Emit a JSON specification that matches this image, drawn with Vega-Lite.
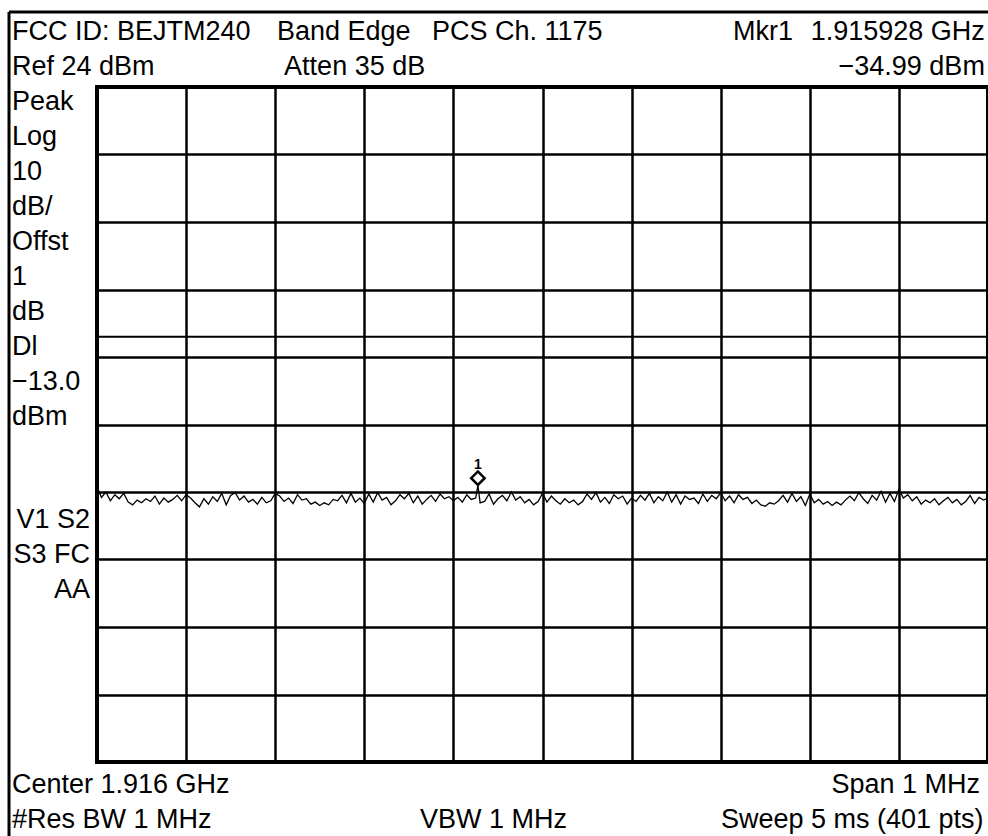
{
  "$schema": "https://vega.github.io/schema/vega-lite/v6.json",
  "width": 891,
  "height": 675,
  "autosize": {"type": "none"},
  "padding": {"left": 97, "top": 87, "right": 0, "bottom": 74},
  "background": "white",
  "data": {"values": [{}]},
  "config": {
    "view": {"stroke": "black", "strokeWidth": 4},
    "font": "Liberation Sans",
    "axis": {"labels": false, "ticks": false, "domain": false, "title": null, "grid": true, "gridColor": "black", "gridOpacity": 1, "gridWidth": 2.5},
    "text": {"font": "Liberation Sans", "fill": "black", "color": "black"}
  },
  "datasets": {
    "trace": [
      {"pt": 0, "dBm": -35.2}, {"pt": 2, "dBm": -36.8}, {"pt": 4, "dBm": -36.0}, {"pt": 6, "dBm": -37.3}, {"pt": 8, "dBm": -36.4},
      {"pt": 10, "dBm": -37.0}, {"pt": 12, "dBm": -36.2}, {"pt": 14, "dBm": -37.5}, {"pt": 16, "dBm": -37.9}, {"pt": 18, "dBm": -37.2},
      {"pt": 20, "dBm": -37.6}, {"pt": 22, "dBm": -37.0}, {"pt": 24, "dBm": -37.4}, {"pt": 26, "dBm": -36.6}, {"pt": 28, "dBm": -37.8},
      {"pt": 30, "dBm": -36.9}, {"pt": 32, "dBm": -37.5}, {"pt": 34, "dBm": -37.1}, {"pt": 36, "dBm": -36.5}, {"pt": 38, "dBm": -37.3},
      {"pt": 40, "dBm": -36.4}, {"pt": 42, "dBm": -36.9}, {"pt": 44, "dBm": -37.6}, {"pt": 46, "dBm": -38.2}, {"pt": 48, "dBm": -37.0},
      {"pt": 50, "dBm": -37.8}, {"pt": 52, "dBm": -36.7}, {"pt": 54, "dBm": -37.4}, {"pt": 56, "dBm": -36.2}, {"pt": 58, "dBm": -37.9},
      {"pt": 60, "dBm": -36.5}, {"pt": 62, "dBm": -36.1}, {"pt": 64, "dBm": -37.2}, {"pt": 66, "dBm": -36.6}, {"pt": 68, "dBm": -37.5},
      {"pt": 70, "dBm": -37.1}, {"pt": 72, "dBm": -37.8}, {"pt": 74, "dBm": -36.8}, {"pt": 76, "dBm": -37.6}, {"pt": 78, "dBm": -37.3},
      {"pt": 80, "dBm": -36.2}, {"pt": 82, "dBm": -36.6}, {"pt": 84, "dBm": -37.4}, {"pt": 86, "dBm": -36.9}, {"pt": 88, "dBm": -37.7},
      {"pt": 90, "dBm": -36.4}, {"pt": 92, "dBm": -37.2}, {"pt": 94, "dBm": -37.0}, {"pt": 96, "dBm": -37.8}, {"pt": 98, "dBm": -37.5},
      {"pt": 100, "dBm": -38.0}, {"pt": 102, "dBm": -37.6}, {"pt": 104, "dBm": -37.9}, {"pt": 106, "dBm": -37.1}, {"pt": 108, "dBm": -37.3},
      {"pt": 110, "dBm": -36.5}, {"pt": 112, "dBm": -37.6}, {"pt": 114, "dBm": -36.2}, {"pt": 116, "dBm": -37.5}, {"pt": 118, "dBm": -36.9},
      {"pt": 120, "dBm": -37.7}, {"pt": 122, "dBm": -36.3}, {"pt": 124, "dBm": -37.5}, {"pt": 126, "dBm": -36.1}, {"pt": 128, "dBm": -37.2},
      {"pt": 130, "dBm": -36.8}, {"pt": 132, "dBm": -37.9}, {"pt": 134, "dBm": -37.3}, {"pt": 136, "dBm": -36.4}, {"pt": 138, "dBm": -37.0},
      {"pt": 140, "dBm": -36.2}, {"pt": 142, "dBm": -37.6}, {"pt": 144, "dBm": -36.6}, {"pt": 146, "dBm": -37.8}, {"pt": 148, "dBm": -37.1},
      {"pt": 150, "dBm": -36.5}, {"pt": 152, "dBm": -37.4}, {"pt": 154, "dBm": -36.3}, {"pt": 156, "dBm": -37.0}, {"pt": 158, "dBm": -36.7},
      {"pt": 160, "dBm": -37.3}, {"pt": 162, "dBm": -36.8}, {"pt": 164, "dBm": -37.5}, {"pt": 166, "dBm": -36.4}, {"pt": 168, "dBm": -37.1},
      {"pt": 170, "dBm": -36.9}, {"pt": 171, "dBm": -34.99}, {"pt": 172, "dBm": -37.6}, {"pt": 174, "dBm": -37.4}, {"pt": 176, "dBm": -36.3},
      {"pt": 178, "dBm": -37.8}, {"pt": 180, "dBm": -37.0}, {"pt": 182, "dBm": -36.5}, {"pt": 184, "dBm": -37.3}, {"pt": 186, "dBm": -36.0},
      {"pt": 188, "dBm": -37.2}, {"pt": 190, "dBm": -36.7}, {"pt": 192, "dBm": -37.6}, {"pt": 194, "dBm": -37.1}, {"pt": 196, "dBm": -37.9},
      {"pt": 198, "dBm": -37.4}, {"pt": 200, "dBm": -36.2}, {"pt": 202, "dBm": -37.5}, {"pt": 204, "dBm": -36.6}, {"pt": 206, "dBm": -37.3},
      {"pt": 208, "dBm": -37.8}, {"pt": 210, "dBm": -37.0}, {"pt": 212, "dBm": -37.6}, {"pt": 214, "dBm": -37.2}, {"pt": 216, "dBm": -37.9},
      {"pt": 218, "dBm": -37.4}, {"pt": 220, "dBm": -36.3}, {"pt": 222, "dBm": -37.1}, {"pt": 224, "dBm": -36.1}, {"pt": 226, "dBm": -37.5},
      {"pt": 228, "dBm": -36.8}, {"pt": 230, "dBm": -37.7}, {"pt": 232, "dBm": -36.4}, {"pt": 234, "dBm": -37.0}, {"pt": 236, "dBm": -36.6},
      {"pt": 238, "dBm": -37.8}, {"pt": 240, "dBm": -36.9}, {"pt": 242, "dBm": -37.4}, {"pt": 244, "dBm": -36.5}, {"pt": 246, "dBm": -37.2},
      {"pt": 248, "dBm": -36.2}, {"pt": 250, "dBm": -37.6}, {"pt": 252, "dBm": -36.7}, {"pt": 254, "dBm": -37.3}, {"pt": 256, "dBm": -36.0},
      {"pt": 258, "dBm": -37.5}, {"pt": 260, "dBm": -36.4}, {"pt": 262, "dBm": -37.8}, {"pt": 264, "dBm": -36.6}, {"pt": 266, "dBm": -37.1},
      {"pt": 268, "dBm": -36.9}, {"pt": 270, "dBm": -37.7}, {"pt": 272, "dBm": -36.3}, {"pt": 274, "dBm": -37.4}, {"pt": 276, "dBm": -36.5},
      {"pt": 278, "dBm": -37.0}, {"pt": 280, "dBm": -36.1}, {"pt": 282, "dBm": -37.3}, {"pt": 284, "dBm": -36.6}, {"pt": 286, "dBm": -37.6},
      {"pt": 288, "dBm": -36.4}, {"pt": 290, "dBm": -37.1}, {"pt": 292, "dBm": -36.8}, {"pt": 294, "dBm": -37.7}, {"pt": 296, "dBm": -37.2},
      {"pt": 298, "dBm": -37.9}, {"pt": 300, "dBm": -38.1}, {"pt": 302, "dBm": -37.6}, {"pt": 304, "dBm": -37.8}, {"pt": 306, "dBm": -37.3},
      {"pt": 308, "dBm": -36.5}, {"pt": 310, "dBm": -37.5}, {"pt": 312, "dBm": -36.2}, {"pt": 314, "dBm": -37.4}, {"pt": 316, "dBm": -36.7},
      {"pt": 318, "dBm": -38.0}, {"pt": 320, "dBm": -36.3}, {"pt": 322, "dBm": -37.6}, {"pt": 324, "dBm": -37.1}, {"pt": 326, "dBm": -37.8},
      {"pt": 328, "dBm": -37.4}, {"pt": 330, "dBm": -38.0}, {"pt": 332, "dBm": -37.5}, {"pt": 334, "dBm": -37.9}, {"pt": 336, "dBm": -37.2},
      {"pt": 338, "dBm": -36.6}, {"pt": 340, "dBm": -37.3}, {"pt": 342, "dBm": -36.1}, {"pt": 344, "dBm": -37.0}, {"pt": 346, "dBm": -37.7},
      {"pt": 348, "dBm": -36.5}, {"pt": 350, "dBm": -37.2}, {"pt": 352, "dBm": -35.9}, {"pt": 354, "dBm": -37.5}, {"pt": 356, "dBm": -36.2},
      {"pt": 358, "dBm": -37.4}, {"pt": 360, "dBm": -35.6}, {"pt": 362, "dBm": -36.9}, {"pt": 364, "dBm": -36.4}, {"pt": 366, "dBm": -37.3},
      {"pt": 368, "dBm": -36.7}, {"pt": 370, "dBm": -37.8}, {"pt": 372, "dBm": -37.2}, {"pt": 374, "dBm": -37.6}, {"pt": 376, "dBm": -37.0},
      {"pt": 378, "dBm": -37.9}, {"pt": 380, "dBm": -37.3}, {"pt": 382, "dBm": -36.8}, {"pt": 384, "dBm": -37.6}, {"pt": 386, "dBm": -37.1},
      {"pt": 388, "dBm": -37.9}, {"pt": 390, "dBm": -37.4}, {"pt": 392, "dBm": -36.5}, {"pt": 394, "dBm": -37.7}, {"pt": 396, "dBm": -36.8},
      {"pt": 398, "dBm": -37.2}, {"pt": 400, "dBm": -36.9}
    ],
    "marker": [{"pt": 171, "dBm": -34.99, "label": "1"}]
  },
  "layer": [
    {
      "data": {"name": "trace"},
      "mark": {"type": "line", "color": "black", "strokeWidth": 1.3, "clip": true},
      "encoding": {
        "x": {"field": "pt", "type": "quantitative", "scale": {"domain": [0, 400], "nice": false, "zero": false},
              "axis": {"values": [40, 80, 120, 160, 200, 240, 280, 320, 360]}},
        "y": {"field": "dBm", "type": "quantitative", "scale": {"domain": [-76, 24], "nice": false, "zero": false},
              "axis": {"values": [14, 4, -6, -16, -26, -36, -46, -56, -66]}}
      }
    },
    {
      "mark": {"type": "rule", "color": "black", "strokeWidth": 2},
      "encoding": {"y": {"datum": -13}}
    },
    {
      "data": {"name": "marker"},
      "mark": {"type": "point", "shape": "diamond", "filled": false, "stroke": "black", "strokeWidth": 2.5, "size": 180, "yOffset": -7, "opacity": 1},
      "encoding": {"x": {"field": "pt", "type": "quantitative"}, "y": {"field": "dBm", "type": "quantitative"}}
    },
    {
      "data": {"name": "marker"},
      "mark": {"type": "text", "fontSize": 14, "fontWeight": "bold", "dy": -16, "baseline": "alphabetic", "align": "center", "fill": "black", "color": "black"},
      "encoding": {"x": {"field": "pt", "type": "quantitative"}, "y": {"field": "dBm", "type": "quantitative"}, "text": {"field": "label"}}
    },
    {
      "mark": {"type": "rule", "color": "black", "strokeWidth": 3, "clip": false},
      "encoding": {"x": {"datum": -39.5}, "y": {"datum": 35.1}, "y2": {"datum": -95}}
    },
    {
      "mark": {"type": "rule", "color": "black", "strokeWidth": 3, "clip": false},
      "encoding": {"y": {"datum": 35.1}, "x": {"datum": -39.5}, "x2": {"datum": 402}}
    },
    {
      "mark": {"type": "text", "fontSize": 27, "align": "left", "baseline": "alphabetic", "fill": "black"},
      "encoding": {"x": {"datum": -38.2}, "y": {"datum": 30.96}, "text": {"value": "FCC ID: BEJTM240"}}
    },
    {
      "mark": {"type": "text", "fontSize": 27, "align": "left", "baseline": "alphabetic", "fill": "black"},
      "encoding": {"x": {"datum": 80.8}, "y": {"datum": 30.96}, "text": {"value": "Band Edge"}}
    },
    {
      "mark": {"type": "text", "fontSize": 27, "align": "left", "baseline": "alphabetic", "fill": "black"},
      "encoding": {"x": {"datum": 150.4}, "y": {"datum": 30.96}, "text": {"value": "PCS Ch. 1175"}}
    },
    {
      "mark": {"type": "text", "fontSize": 27, "align": "left", "baseline": "alphabetic", "fill": "black"},
      "encoding": {"x": {"datum": 285.5}, "y": {"datum": 30.96}, "text": {"value": "Mkr1"}}
    },
    {
      "mark": {"type": "text", "fontSize": 27, "align": "right", "baseline": "alphabetic", "fill": "black"},
      "encoding": {"x": {"datum": 398.6}, "y": {"datum": 30.96}, "text": {"value": "1.915928 GHz"}}
    },
    {
      "mark": {"type": "text", "fontSize": 27, "align": "left", "baseline": "alphabetic", "fill": "black"},
      "encoding": {"x": {"datum": -38.2}, "y": {"datum": 25.78}, "text": {"value": "Ref 24 dBm"}}
    },
    {
      "mark": {"type": "text", "fontSize": 27, "align": "left", "baseline": "alphabetic", "fill": "black"},
      "encoding": {"x": {"datum": 84}, "y": {"datum": 25.78}, "text": {"value": "Atten 35 dB"}}
    },
    {
      "mark": {"type": "text", "fontSize": 27, "align": "right", "baseline": "alphabetic", "fill": "black"},
      "encoding": {"x": {"datum": 398.6}, "y": {"datum": 25.78}, "text": {"value": "−34.99 dBm"}}
    },
    {
      "mark": {"type": "text", "fontSize": 27, "align": "left", "baseline": "alphabetic", "lineHeight": 35, "fill": "black"},
      "encoding": {"x": {"datum": -38.2}, "y": {"datum": 20.59}, "text": {"value": ["Peak", "Log", "10", "dB/", "Offst", "1", "dB"]}}
    },
    {
      "mark": {"type": "text", "fontSize": 27, "align": "left", "baseline": "alphabetic", "lineHeight": 35, "fill": "black"},
      "encoding": {"x": {"datum": -38.2}, "y": {"datum": -15.7}, "text": {"value": ["Dl", "−13.0", "dBm"]}}
    },
    {
      "mark": {"type": "text", "fontSize": 27, "align": "right", "baseline": "alphabetic", "lineHeight": 35, "fill": "black"},
      "encoding": {"x": {"datum": -3.1}, "y": {"datum": -41.33}, "text": {"value": ["V1  S2", "S3 FC", "AA"]}}
    },
    {
      "mark": {"type": "text", "fontSize": 27, "align": "left", "baseline": "alphabetic", "fill": "black"},
      "encoding": {"x": {"datum": -38.2}, "y": {"datum": -80.59}, "text": {"value": "Center 1.916 GHz"}}
    },
    {
      "mark": {"type": "text", "fontSize": 27, "align": "right", "baseline": "alphabetic", "fill": "black"},
      "encoding": {"x": {"datum": 396.4}, "y": {"datum": -80.59}, "text": {"value": "Span 1 MHz"}}
    },
    {
      "mark": {"type": "text", "fontSize": 27, "align": "left", "baseline": "alphabetic", "fill": "black"},
      "encoding": {"x": {"datum": -38.2}, "y": {"datum": -85.78}, "text": {"value": "#Res BW 1 MHz"}}
    },
    {
      "mark": {"type": "text", "fontSize": 27, "align": "left", "baseline": "alphabetic", "fill": "black"},
      "encoding": {"x": {"datum": 145}, "y": {"datum": -85.78}, "text": {"value": "VBW 1 MHz"}}
    },
    {
      "mark": {"type": "text", "fontSize": 27, "align": "right", "baseline": "alphabetic", "fill": "black"},
      "encoding": {"x": {"datum": 398}, "y": {"datum": -85.78}, "text": {"value": "Sweep 5 ms (401 pts)"}}
    }
  ]
}
